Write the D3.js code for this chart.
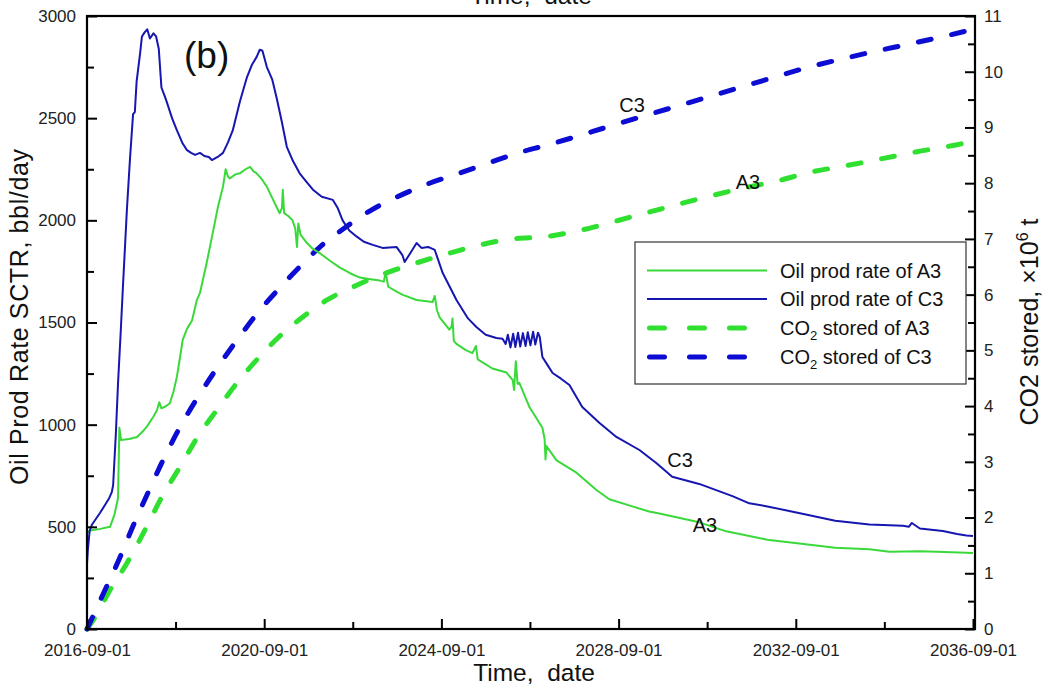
<!DOCTYPE html>
<html>
<head>
<meta charset="utf-8">
<script src="https://cdn.jsdelivr.net/npm/d3@7"></script>
<style>
  html, body { margin: 0; padding: 0; background: #fff; }
  svg { display: block; font-family: "Liberation Sans", Arial, sans-serif; }
</style>
</head>
<body>
<svg id="chart" width="1047" height="691"></svg>
<script>
// Time is given in years elapsed since 2016-09-01.
// Oil production rate of case C3, bbl/day
const oilC3 = [
  [0.00, 320], [0.02, 390], [0.06, 480], [0.11, 510], [0.30, 570], [0.50, 640], [0.56, 670],
  [0.59, 705], [0.65, 950], [0.70, 1200], [0.76, 1450], [0.81, 1670], [0.86, 1880], [0.90, 2050],
  [0.97, 2300], [1.04, 2520], [1.08, 2530], [1.12, 2680], [1.20, 2820], [1.24, 2900], [1.30, 2920],
  [1.36, 2935], [1.42, 2890], [1.50, 2915], [1.56, 2900], [1.62, 2840], [1.68, 2650], [1.75, 2610],
  [1.80, 2580], [1.92, 2500], [2.03, 2440], [2.15, 2380], [2.25, 2345], [2.35, 2330], [2.44, 2320],
  [2.55, 2330], [2.65, 2315], [2.75, 2310], [2.82, 2295], [2.95, 2310], [3.07, 2330], [3.18, 2380],
  [3.29, 2440], [3.45, 2580], [3.61, 2700], [3.72, 2760], [3.83, 2800], [3.90, 2835], [3.96, 2830],
  [4.06, 2750], [4.18, 2690], [4.28, 2600], [4.40, 2480], [4.51, 2360], [4.65, 2290], [4.80, 2230],
  [4.95, 2190], [5.10, 2150], [5.30, 2115], [5.55, 2100], [5.66, 2060], [5.77, 2000], [5.92, 1950],
  [6.09, 1920], [6.25, 1895], [6.45, 1880], [6.67, 1865], [6.99, 1869], [7.12, 1830], [7.17, 1796],
  [7.30, 1840], [7.44, 1889], [7.55, 1865], [7.70, 1870], [7.85, 1855], [8.03, 1742], [8.34, 1610],
  [8.60, 1520], [8.79, 1478], [9.00, 1440], [9.24, 1424], [9.38, 1420],
  [9.45, 1395], [9.50, 1440], [9.56, 1378], [9.62, 1445], [9.67, 1380], [9.73, 1450], [9.78, 1382],
  [9.84, 1448], [9.90, 1385], [9.95, 1452], [10.01, 1388], [10.07, 1455], [10.12, 1392], [10.18, 1450],
  [10.22, 1430], [10.28, 1331], [10.40, 1290], [10.51, 1253], [10.70, 1225], [10.89, 1194],
  [11.18, 1086], [11.57, 1008], [11.95, 940], [12.47, 876], [12.85, 812], [13.21, 745], [13.82, 710],
  [14.57, 650], [14.95, 615], [15.36, 600], [16.12, 565], [16.89, 530], [17.66, 512], [18.42, 505],
  [18.55, 500], [18.62, 519], [18.80, 492], [19.32, 480], [19.64, 465], [19.85, 458], [20.00, 455]
];

// Oil production rate of case A3, bbl/day
const oilA3 = [
  [0.00, 470], [0.05, 480], [0.14, 485], [0.30, 490], [0.52, 500], [0.62, 560], [0.70, 640],
  [0.73, 985], [0.77, 925], [0.95, 930], [1.13, 940], [1.25, 965], [1.35, 990], [1.50, 1040],
  [1.58, 1070], [1.63, 1110], [1.68, 1080], [1.78, 1090], [1.87, 1105], [1.95, 1160], [2.03, 1235],
  [2.10, 1330], [2.16, 1415], [2.26, 1470], [2.37, 1510], [2.48, 1610], [2.55, 1645], [2.70, 1790],
  [2.84, 1940], [2.95, 2060], [3.07, 2165], [3.13, 2250], [3.18, 2215], [3.22, 2205], [3.35, 2225],
  [3.45, 2230], [3.58, 2250], [3.68, 2262], [3.76, 2240], [3.83, 2230], [3.95, 2200], [4.06, 2165],
  [4.18, 2110], [4.28, 2065], [4.35, 2035], [4.40, 2060], [4.42, 2150], [4.45, 2035], [4.55, 2020],
  [4.64, 2000], [4.70, 1960], [4.74, 1870], [4.77, 1985], [4.82, 1930], [4.96, 1890], [5.10, 1860],
  [5.25, 1840], [5.50, 1800], [5.70, 1770], [5.95, 1740], [6.16, 1720], [6.40, 1712], [6.61, 1705],
  [6.70, 1700], [6.74, 1745], [6.80, 1675], [7.00, 1650], [7.13, 1635], [7.44, 1610], [7.62, 1605],
  [7.80, 1600], [7.85, 1630], [7.90, 1560], [7.96, 1525], [8.18, 1465], [8.23, 1480], [8.25, 1520],
  [8.28, 1410], [8.34, 1395], [8.55, 1365], [8.70, 1350], [8.78, 1385], [8.82, 1320], [9.15, 1275],
  [9.47, 1255], [9.61, 1218], [9.64, 1170], [9.68, 1310], [9.72, 1200], [9.76, 1205], [9.99, 1085],
  [10.28, 985], [10.33, 930], [10.35, 830], [10.37, 895], [10.60, 825], [11.05, 765], [11.50, 680],
  [11.79, 635], [12.31, 600], [12.69, 575], [12.92, 565], [13.82, 522], [14.43, 478], [14.95, 455],
  [15.40, 435], [16.08, 418], [16.89, 398], [17.66, 390], [18.11, 378], [18.80, 380], [19.19, 378],
  [20.00, 372]
];

// Cumulative CO2 stored, 10^6 t
const co2C3 = [
  [0.00, 0.00], [0.36, 0.62], [0.74, 1.28], [1.04, 1.85], [1.42, 2.52], [1.71, 3.02], [2.14, 3.68],
  [2.55, 4.22], [2.95, 4.70], [3.40, 5.20], [3.86, 5.68], [4.35, 6.12], [4.80, 6.50], [5.25, 6.85],
  [5.82, 7.20], [6.38, 7.50], [6.99, 7.75], [7.67, 7.98], [8.41, 8.18], [9.09, 8.37], [9.76, 8.55],
  [10.37, 8.68], [12.00, 9.07], [13.82, 9.50], [14.75, 9.72], [15.51, 9.90], [16.28, 10.08],
  [17.05, 10.23], [17.81, 10.37], [18.58, 10.50], [19.32, 10.63], [20.00, 10.76]
];
const co2A3 = [
  [0.00, 0.00], [0.14, 0.16], [0.52, 0.70], [0.90, 1.18], [1.31, 1.78], [1.69, 2.37], [2.10, 2.91],
  [2.50, 3.45], [2.93, 3.93], [3.38, 4.41], [3.83, 4.83], [4.33, 5.24], [4.87, 5.60], [5.41, 5.90],
  [6.09, 6.17], [6.76, 6.39], [7.44, 6.57], [8.12, 6.73], [8.86, 6.89], [9.61, 7.00], [10.37, 7.04],
  [11.05, 7.14], [12.40, 7.42], [13.82, 7.72], [14.81, 7.91], [15.58, 8.04], [16.35, 8.20],
  [17.18, 8.32], [17.95, 8.44], [18.71, 8.56], [19.64, 8.69], [20.00, 8.75]
];

// Axis ticks
const xMajorTicks = ["2016-09-01", "2020-09-01", "2024-09-01", "2028-09-01", "2032-09-01", "2036-09-01"];
const xMinorTicks = ["2018-09-01", "2022-09-01", "2026-09-01", "2030-09-01", "2034-09-01"];
const yLeftMajor = [0, 500, 1000, 1500, 2000, 2500, 3000];
const yLeftMinor = [250, 750, 1250, 1750, 2250, 2750];
const yRightMajor = [0, 1, 2, 3, 4, 5, 6, 7, 8, 9, 10, 11];
const yRightMinor = [0.5, 1.5, 2.5, 3.5, 4.5, 5.5, 6.5, 7.5, 8.5, 9.5, 10.5];

const colors = {
  greenSolid: "#3ad93a",
  blueSolid: "#1616b0",
  greenDash: "#30e030",
  blueDash: "#0c0cd2"
};

const svg = d3.select("#chart");
const plotL = 87, plotR = 975, plotT = 16, plotB = 629;

const parse = d3.utcParse("%Y-%m-%d");
const t0 = parse("2016-09-01"), t1 = parse("2036-09-01");
const toDate = yrs => new Date(t0.getTime() + yrs * 365.25 * 864e5);

const x = d3.scaleUtc().domain([t0, t1]).range([plotL, 973]);
const yL = d3.scaleLinear().domain([0, 3000]).range([plotB, plotT]);
const yR = d3.scaleLinear().domain([0, 11]).range([plotB, plotT]);

// Curves
const oilLine = d3.line().x(d => x(toDate(d[0]))).y(d => yL(d[1]));
const co2Line = d3.line().x(d => x(toDate(d[0]))).y(d => yR(d[1])).curve(d3.curveMonotoneX);

const plot = svg.append("g");
plot.append("path").datum(co2A3).attr("d", co2Line)
  .attr("fill", "none").attr("stroke", colors.greenDash).attr("stroke-width", 5)
  .attr("stroke-linecap", "round").attr("stroke-dasharray", "13 21");
plot.append("path").datum(co2C3).attr("d", co2Line)
  .attr("fill", "none").attr("stroke", colors.blueDash).attr("stroke-width", 5)
  .attr("stroke-linecap", "round").attr("stroke-dasharray", "13 21");
plot.append("path").datum(oilA3).attr("d", oilLine)
  .attr("fill", "none").attr("stroke", colors.greenSolid).attr("stroke-width", 2)
  .attr("stroke-linejoin", "round");
plot.append("path").datum(oilC3).attr("d", oilLine)
  .attr("fill", "none").attr("stroke", colors.blueSolid).attr("stroke-width", 2)
  .attr("stroke-linejoin", "round");

// Axes (ticks point inward)
function styleAxis(g) {
  g.select(".domain").remove();
  g.selectAll(".tick line").attr("stroke", "#000").attr("stroke-width", 2);
  g.selectAll(".tick text").attr("fill", "#222").attr("font-size", 17)
    .attr("font-family", "'Liberation Sans', Arial, sans-serif");
}

svg.append("g").attr("transform", `translate(0,${plotB})`)
  .call(d3.axisBottom(x).tickValues(xMajorTicks.map(parse)).tickSize(-10).tickPadding(15)
    .tickFormat(d3.utcFormat("%Y-%m-%d")))
  .call(styleAxis);
svg.append("g").attr("transform", `translate(0,${plotB})`)
  .call(d3.axisBottom(x).tickValues(xMinorTicks.map(parse)).tickSize(-7).tickFormat(""))
  .call(styleAxis);

svg.append("g").attr("transform", `translate(${plotL},0)`)
  .call(d3.axisLeft(yL).tickValues(yLeftMajor).tickSize(-10).tickPadding(11).tickFormat(d3.format("d")))
  .call(styleAxis);
svg.append("g").attr("transform", `translate(${plotL},0)`)
  .call(d3.axisLeft(yL).tickValues(yLeftMinor).tickSize(-7).tickFormat(""))
  .call(styleAxis);

svg.append("g").attr("transform", `translate(${plotR},0)`)
  .call(d3.axisRight(yR).tickValues(yRightMajor).tickSize(-10).tickPadding(9).tickFormat(d3.format("d")))
  .call(styleAxis);
svg.append("g").attr("transform", `translate(${plotR},0)`)
  .call(d3.axisRight(yR).tickValues(yRightMinor).tickSize(-7).tickFormat(""))
  .call(styleAxis);

// Frame
svg.append("rect").attr("x", plotL).attr("y", plotT)
  .attr("width", plotR - plotL).attr("height", plotB - plotT)
  .attr("fill", "none").attr("stroke", "#000").attr("stroke-width", 2.2);

// Axis titles
svg.append("text").attr("x", 534).attr("y", 681).attr("text-anchor", "middle")
  .attr("font-size", 24.5).attr("fill", "#111").attr("xml:space", "preserve").text("Time,  date");
svg.append("text").attr("x", 531).attr("y", 4).attr("text-anchor", "middle")
  .attr("font-size", 24.5).attr("fill", "#111").attr("xml:space", "preserve").text("Time,  date");

svg.append("text").attr("transform", "translate(28,317) rotate(-90)").attr("text-anchor", "middle")
  .attr("font-size", 25).attr("fill", "#111")
  .attr("textLength", 336).attr("lengthAdjust", "spacing")
  .text("Oil Prod Rate SCTR, bbl/day");

const rt = svg.append("text").attr("transform", "translate(1038,322) rotate(-90)")
  .attr("text-anchor", "middle").attr("font-size", 25).attr("fill", "#111");
rt.append("tspan").text("CO2 stored, \u00d710");
rt.append("tspan").attr("dy", -10).attr("font-size", 16).text("6");
rt.append("tspan").attr("dy", 10).text(" t");

// Panel tag and curve labels
svg.append("text").attr("x", 184).attr("y", 68).attr("font-size", 37).attr("fill", "#111").text("(b)");
const curveLabels = [
  { text: "C3", x: 632, y: 112 },
  { text: "A3", x: 748, y: 189 },
  { text: "C3", x: 680, y: 467 },
  { text: "A3", x: 705, y: 532 }
];
svg.selectAll(".clabel").data(curveLabels).join("text").attr("class", "clabel")
  .attr("x", d => d.x).attr("y", d => d.y).attr("text-anchor", "middle")
  .attr("font-size", 20).attr("fill", "#111").text(d => d.text);

// Legend
const legend = svg.append("g");
legend.append("rect").attr("x", 635).attr("y", 242).attr("width", 331).attr("height", 142)
  .attr("fill", "#fff").attr("stroke", "#333").attr("stroke-width", 1.2);
const legendItems = [
  { label: ["Oil prod rate of A3"], color: colors.greenSolid, dashed: false, y: 270.5 },
  { label: ["Oil prod rate of C3"], color: colors.blueSolid, dashed: false, y: 299 },
  { label: ["CO", "2", " stored of A3"], color: colors.greenDash, dashed: true, y: 328 },
  { label: ["CO", "2", " stored of C3"], color: colors.blueDash, dashed: true, y: 357 }
];
legendItems.forEach(it => {
  if (it.dashed) {
    legend.append("line").attr("x1", 649.5).attr("x2", 744.5).attr("y1", it.y).attr("y2", it.y)
      .attr("stroke", it.color).attr("stroke-width", 5).attr("stroke-linecap", "round")
      .attr("stroke-dasharray", "15 25");
  } else {
    legend.append("line").attr("x1", 647).attr("x2", 767).attr("y1", it.y).attr("y2", it.y)
      .attr("stroke", it.color).attr("stroke-width", 2);
  }
  const t = legend.append("text").attr("x", 780).attr("y", it.y + 7)
    .attr("font-size", 20).attr("fill", "#111");
  if (it.label.length === 1) {
    t.text(it.label[0]);
  } else {
    t.append("tspan").text(it.label[0]);
    t.append("tspan").attr("dy", 5).attr("font-size", 13).text(it.label[1]);
    t.append("tspan").attr("dy", -5).text(it.label[2]);
  }
});
</script>
</body>
</html>
